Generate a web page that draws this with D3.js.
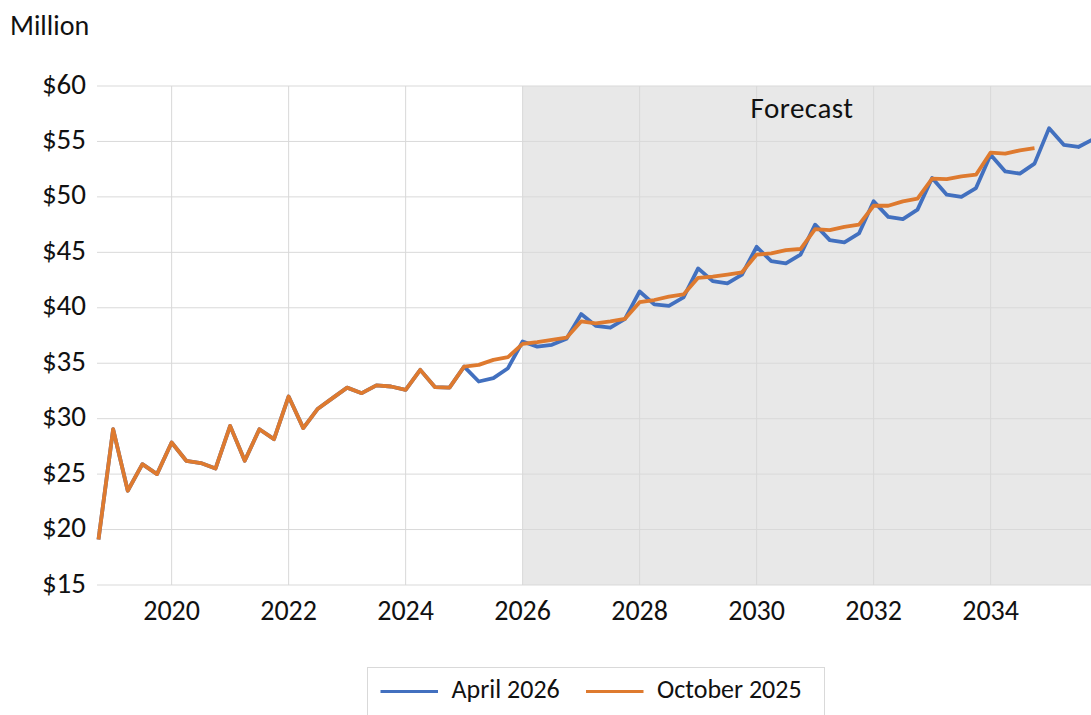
<!DOCTYPE html>
<html>
<head>
<meta charset="utf-8">
<script src="https://cdn.jsdelivr.net/npm/d3@7"></script>
<style>
  body { margin: 0; background: #fff; }
  svg { font-family: Carlito, Lato, "Open Sans", sans-serif; }
</style>
</head>
<body>
<div id="chart"></div>
<script>
// quarterly points, decimal years
const startYear = 2018.75;
const history = [19.1, 29.05, 23.5, 25.9, 25.0, 27.85, 26.2, 26.0, 25.5, 29.35, 26.2, 29.05, 28.15,
    32.0, 29.15, 30.9, 31.85, 32.8, 32.3, 33.0, 32.9, 32.6, 34.4, 32.85, 32.8, 34.7];
// from 2025.25
const aprilForecast = [33.35, 33.65, 34.55, 36.96, 36.5, 36.66, 37.2, 39.43, 38.37, 38.2, 39.0,
    41.47, 40.3, 40.18, 40.93, 43.55, 42.4, 42.2, 43.0, 45.5, 44.2, 44.0, 44.8, 47.5, 46.1, 45.9, 46.7,
    49.6, 48.2, 48.0, 48.85, 51.7, 50.2, 50.0, 50.8, 53.8, 52.3, 52.1, 53.0, 56.2, 54.7, 54.5, 55.2];
const octoberForecast = [34.85, 35.3, 35.55, 36.75, 36.9, 37.1, 37.3, 38.77, 38.6, 38.77, 39.0,
    40.5, 40.7, 41.0, 41.2, 42.7, 42.8, 43.0, 43.2, 44.8, 44.9, 45.2, 45.3, 47.1, 47.0, 47.3, 47.5,
    49.2, 49.2, 49.6, 49.84, 51.65, 51.6, 51.85, 52.0, 54.0, 53.9, 54.2, 54.4];
const seriesNames = ["April 2026", "October 2025"];
const yTicks = [15, 20, 25, 30, 35, 40, 45, 50, 55, 60];
const xTicks = [2020, 2022, 2024, 2026, 2028, 2030, 2032, 2034];
const forecastStart = 2026;

const colors = {"April 2026": "#4270BF", "October 2025": "#DE7A2F"};

function toPoints(values) {
    return values.map((v, i) => ({year: startYear + i * 0.25, value: v}));
}
const series = [
    {name: seriesNames[0], points: toPoints(history.concat(aprilForecast))},
    {name: seriesNames[1], points: toPoints(history.concat(octoberForecast))}
];

const width = 1091, height = 715;
const svg = d3.select("#chart").append("svg")
    .attr("width", width)
    .attr("height", height);

const x = d3.scaleLinear().domain([2018.75, 2035.75]).range([98.5, 1093]);
const y = d3.scaleLinear().domain([15, 60]).range([585, 86]);

// forecast shading
svg.append("rect")
    .attr("x", x(forecastStart))
    .attr("y", y(60))
    .attr("width", width - x(forecastStart))
    .attr("height", y(15) - y(60))
    .attr("fill", "#e8e8e8");

// grid
svg.append("g").selectAll("line")
    .data(yTicks)
    .join("line")
    .attr("x1", 97).attr("x2", width)
    .attr("y1", d => y(d)).attr("y2", d => y(d))
    .attr("stroke", "#d9d9d9").attr("stroke-width", 1);

svg.append("g").selectAll("line")
    .data(xTicks)
    .join("line")
    .attr("x1", d => x(d)).attr("x2", d => x(d))
    .attr("y1", y(60)).attr("y2", y(15))
    .attr("stroke", "#d9d9d9").attr("stroke-width", 1);

// axis labels
svg.append("g").selectAll("text")
    .data(yTicks)
    .join("text")
    .attr("x", 86)
    .attr("y", d => y(d) + 7.5)
    .attr("text-anchor", "end")
    .style("font-size", "29px")
    .attr("fill", "#111")
    .text(d => "$" + d);

svg.append("g").selectAll("text")
    .data(xTicks)
    .join("text")
    .attr("x", d => x(d))
    .attr("y", 620)
    .attr("text-anchor", "middle")
    .style("font-size", "28px")
    .attr("fill", "#111")
    .text(d => d);

svg.append("text")
    .attr("x", 10).attr("y", 35)
    .style("font-size", "28px")
    .attr("fill", "#111")
    .text("Million");

svg.append("text")
    .attr("x", 802)
    .attr("y", 117.5)
    .attr("text-anchor", "middle")
    .style("font-size", "29px")
    .style("letter-spacing", "0.5px")
    .attr("fill", "#111")
    .text("Forecast");

// lines
const line = d3.line()
    .x(d => x(d.year))
    .y(d => y(d.value));

svg.append("g").selectAll("path")
    .data(series)
    .join("path")
    .attr("fill", "none")
    .attr("stroke", d => colors[d.name])
    .attr("stroke-width", 3.8)
    .attr("stroke-linejoin", "round")
    .attr("d", d => line(d.points));

// legend
const legend = svg.append("g");
legend.append("rect")
    .attr("x", 367.5).attr("y", 667.5)
    .attr("width", 457).attr("height", 60)
    .attr("fill", "#fff")
    .attr("stroke", "#d9d9d9");

const legendX = [380.5, 586];
seriesNames.forEach((name, i) => {
    legend.append("line")
        .attr("x1", legendX[i]).attr("x2", legendX[i] + 57.5)
        .attr("y1", 691.5).attr("y2", 691.5)
        .attr("stroke", colors[name])
        .attr("stroke-width", 3);
    legend.append("text")
        .attr("x", legendX[i] + 71)
        .attr("y", 698)
        .style("font-size", "26px")
        .attr("fill", "#111")
        .text(name);
});
</script>
</body>
</html>
